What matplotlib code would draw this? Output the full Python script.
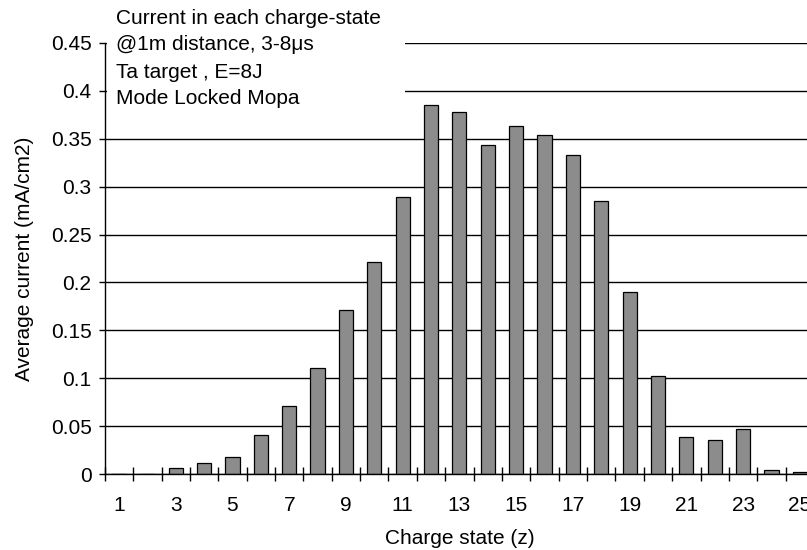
import matplotlib
matplotlib.use("Agg")
import matplotlib.pyplot as plt
from matplotlib.patches import Rectangle
from matplotlib.ticker import FixedLocator

plt.rcParams['font.family'] = ['Liberation Sans', 'DejaVu Sans']

# Charge states and average current per state (mA/cm2)
charge_states = list(range(1, 26))
avg_current = [0.0, 0.0, 0.006, 0.0115, 0.0175, 0.041, 0.071, 0.111, 0.171, 0.221,
               0.289, 0.385, 0.378, 0.344, 0.363, 0.354, 0.333, 0.285, 0.19, 0.102,
               0.0385, 0.035, 0.0465, 0.004, 0.002]

y_ticks = [0, 0.05, 0.1, 0.15, 0.2, 0.25, 0.3, 0.35, 0.4, 0.45]
y_tick_labels = ["0", "0.05", "0.1", "0.15", "0.2", "0.25", "0.3", "0.35", "0.4", "0.45"]
x_tick_labels = [str(c) for c in charge_states if c % 2 == 1]

info_lines = ["Current in each charge-state",
              "@1m distance, 3-8\u03bcs",
              "Ta target , E=8J",
              "Mode Locked Mopa"]

FS = 15
W, H = 807, 550
fig = plt.figure(figsize=(W / 100, H / 100), dpi=100)
left, right, bottom, top = 104.8, 814.0, 474.0, 43.0
ax = fig.add_axes([left / W, 1 - bottom / H, (right - left) / W, (bottom - top) / H])

ax.bar(charge_states, avg_current, width=0.5, color="#8c8c8c",
       edgecolor="black", linewidth=0.9, zorder=2)

ax.set_xlim(0.5, 25.5)
ax.set_ylim(0, 0.45)
ax.set_yticks(y_ticks)
ax.set_yticklabels(y_tick_labels, fontsize=FS)
ax.yaxis.grid(True, color="black", linewidth=1.0, zorder=0)
ax.set_axisbelow(True)

ax.set_xticks([c for c in charge_states if c % 2 == 1])
ax.set_xticklabels(x_tick_labels, fontsize=FS)
ax.xaxis.set_minor_locator(FixedLocator([c + 0.5 for c in range(0, 26)]))
ax.tick_params(axis="x", which="major", length=0, pad=16)
ax.tick_params(axis="x", which="minor", direction="inout", length=9.5, width=1.0)
ax.tick_params(axis="y", direction="out", length=4.5, width=1.0, pad=5)

for side in ("top", "right"):
    ax.spines[side].set_visible(False)
for side in ("left", "bottom"):
    ax.spines[side].set_linewidth(1.0)

ax.set_xlabel("Charge state (z)", fontsize=FS, labelpad=10)
ax.set_ylabel("Average current (mA/cm2)", fontsize=FS, labelpad=12)

# White panel holding the run description
fig.patches.append(Rectangle((107 / W, 1 - 117 / H), (405 - 107) / W, 112 / H,
                             transform=fig.transFigure, facecolor="white",
                             edgecolor="none", zorder=5))
for i, line in enumerate(info_lines):
    fig.text(116 / W, 1 - (18 + 27 * i) / H, line, fontsize=FS,
             va="center", ha="left", zorder=6)

fig.savefig("out.png", dpi=100)
